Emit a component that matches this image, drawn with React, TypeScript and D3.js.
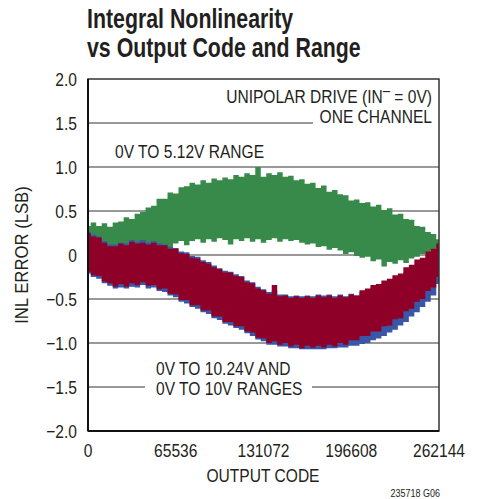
import React from "react";
import * as d3 from "d3";

const W = 485;
const H = 499;

// x sample positions (output codes), one every 4096 codes
const codeStep = 4096;
const codeMax = 262144;
const xTicks = [0, 65536, 131072, 196608, 262144];
const yTicks = [2.0, 1.5, 1.0, 0.5, 0, -0.5, -1.0, -1.5, -2.0];

// 0V to 5.12V range (green) envelope, LSB
const greenUpper = [0.33, 0.37, 0.33, 0.36, 0.32, 0.37, 0.38, 0.43, 0.41, 0.47, 0.49, 0.54, 0.56, 0.64, 0.64, 0.71, 0.70, 0.77, 0.78, 0.82, 0.80, 0.85, 0.82, 0.87, 0.85, 0.88, 0.86, 0.91, 0.89, 0.93, 0.91, 1.00, 0.89, 0.93, 0.91, 0.94, 0.89, 0.90, 0.85, 0.86, 0.81, 0.82, 0.76, 0.79, 0.72, 0.74, 0.69, 0.68, 0.62, 0.63, 0.59, 0.60, 0.55, 0.57, 0.51, 0.53, 0.46, 0.47, 0.41, 0.40, 0.33, 0.32, 0.26, 0.24, 0.18];
const greenLower = [-0.05, -0.02, 0.0, 0.02, 0.05, 0.06, 0.07, 0.08, 0.08, 0.09, 0.09, 0.10, 0.10, 0.05, 0.06, 0.04, 0.13, 0.16, 0.11, 0.16, 0.18, 0.14, 0.18, 0.15, 0.19, 0.17, 0.12, 0.18, 0.16, 0.19, 0.15, 0.18, 0.14, 0.17, 0.19, 0.15, 0.18, 0.16, 0.17, 0.14, 0.12, 0.13, 0.09, 0.10, 0.06, 0.08, 0.05, 0.01, 0.03, -0.01, -0.03, -0.02, -0.07, -0.05, -0.13, -0.08, -0.10, -0.06, -0.09, -0.04, -0.02, 0.01, 0.03, 0.06, 0.08];

// 0V to 10V range (blue) envelope, LSB
const blueUpper = [0.26, 0.23, 0.21, 0.16, 0.12, 0.12, 0.14, 0.13, 0.17, 0.15, 0.17, 0.14, 0.16, 0.13, 0.12, 0.09, 0.08, 0.04, 0.03, -0.01, -0.02, -0.06, -0.08, -0.12, -0.15, -0.18, -0.19, -0.22, -0.24, -0.29, -0.31, -0.36, -0.39, -0.42, -0.40, -0.45, -0.45, -0.47, -0.46, -0.47, -0.46, -0.47, -0.45, -0.46, -0.45, -0.47, -0.45, -0.47, -0.44, -0.46, -0.42, -0.40, -0.37, -0.35, -0.32, -0.30, -0.27, -0.24, -0.20, -0.16, -0.12, -0.08, -0.03, 0.01, 0.05];
const blueLower = [-0.21, -0.25, -0.27, -0.32, -0.35, -0.38, -0.37, -0.38, -0.36, -0.37, -0.34, -0.38, -0.37, -0.41, -0.42, -0.46, -0.48, -0.53, -0.55, -0.59, -0.61, -0.65, -0.67, -0.72, -0.74, -0.78, -0.80, -0.83, -0.85, -0.89, -0.92, -0.96, -0.98, -1.02, -1.02, -1.04, -1.04, -1.06, -1.06, -1.07, -1.07, -1.07, -1.07, -1.07, -1.06, -1.06, -1.05, -1.05, -1.03, -1.03, -1.01, -1.00, -0.97, -0.95, -0.92, -0.88, -0.85, -0.80, -0.76, -0.70, -0.65, -0.59, -0.53, -0.46, -0.33];

// 0V to 10.24V range (red) envelope, LSB
const redUpper = [0.25, 0.21, 0.20, 0.14, 0.10, 0.10, 0.13, 0.11, 0.15, 0.13, 0.14, 0.12, 0.14, 0.11, 0.11, 0.07, 0.07, 0.02, 0.01, -0.03, -0.04, -0.08, -0.10, -0.14, -0.16, -0.20, -0.20, -0.24, -0.25, -0.31, -0.32, -0.38, -0.40, -0.44, -0.34, -0.47, -0.46, -0.49, -0.47, -0.49, -0.47, -0.49, -0.46, -0.48, -0.46, -0.49, -0.46, -0.48, -0.45, -0.46, -0.40, -0.38, -0.34, -0.33, -0.29, -0.27, -0.23, -0.21, -0.14, -0.11, -0.05, -0.03, 0.04, 0.07, 0.13];
const redLower = [-0.19, -0.23, -0.24, -0.30, -0.32, -0.36, -0.33, -0.36, -0.32, -0.34, -0.31, -0.35, -0.34, -0.39, -0.38, -0.44, -0.45, -0.51, -0.51, -0.57, -0.57, -0.63, -0.63, -0.70, -0.70, -0.76, -0.76, -0.81, -0.81, -0.87, -0.88, -0.94, -0.95, -1.00, -0.98, -1.02, -1.00, -1.04, -1.02, -1.06, -1.03, -1.05, -1.03, -1.05, -1.02, -1.04, -1.00, -1.02, -0.97, -0.97, -0.92, -0.92, -0.87, -0.87, -0.81, -0.80, -0.73, -0.72, -0.64, -0.61, -0.53, -0.50, -0.41, -0.37, -0.25];

const FONT = "'Liberation Sans', Arial, sans-serif";
const GREEN = "#378a49";
const BLUE = "#3a56a6";
const RED = "#8f0028";
const TXT = "#231f20";

const x = d3.scaleLinear().domain([0, codeMax]).range([88, 439]);
const y = d3.scaleLinear().domain([-2, 2]).range([431, 79]);
const codes = d3.range(0, codeMax + 1, codeStep);

function bandPath(upper: number[], lower: number[]) {
  const area = d3
    .area<number>()
    .x((d) => x(d))
    .y0((_, i) => y(lower[i]))
    .y1((_, i) => y(upper[i]))
    .curve(d3.curveStep);
  return area(codes) || "";
}

// condensed text: scale horizontally about the anchor point
function T(props: {
  x: number;
  y: number;
  size?: number;
  sx?: number;
  anchor?: "start" | "middle" | "end";
  weight?: string;
  rotate?: number;
  dy?: string;
  children: React.ReactNode;
}) {
  const { x: px, y: py, size = 19, sx = 0.82, anchor = "start", weight = "normal", rotate = 0, dy, children } = props;
  return (
    <text
      transform={`translate(${px},${py})${rotate ? ` rotate(${rotate})` : ""} scale(${sx},1)`}
      textAnchor={anchor}
      fontSize={size}
      fontWeight={weight}
      fill={TXT}
      dy={dy}
    >
      {children}
    </text>
  );
}

export default function App() {
  return (
    <svg
      width={W}
      height={H}
      style={{ position: "absolute", left: 0, top: 0, background: "#fff" }}
      fontFamily={FONT}
    >
      <rect width={W} height={H} fill="#fff" />
      {/* title */}
      <T x={87} y={28} size={27} sx={0.79} weight="bold">Integral Nonlinearity</T>
      <T x={87} y={57} size={27} sx={0.79} weight="bold">vs Output Code and Range</T>

      {/* gridlines */}
      {[1.0, 0.5, 0, -0.5, -1.0].map((v) => (
        <line key={v} x1={x(0)} x2={x(codeMax)} y1={y(v)} y2={y(v)} stroke="#333" strokeWidth={1} />
      ))}
      <line x1={x(0)} x2={313} y1={y(1.5)} y2={y(1.5)} stroke="#333" strokeWidth={1} />
      <line x1={x(0)} x2={145} y1={y(-1.5)} y2={y(-1.5)} stroke="#333" strokeWidth={1} />
      <line x1={312} x2={x(codeMax)} y1={y(-1.5)} y2={y(-1.5)} stroke="#333" strokeWidth={1} />

      {/* bands */}
      <path d={bandPath(greenUpper, greenLower)} fill={GREEN} />
      <path d={bandPath(blueUpper, blueLower)} fill={BLUE} />
      <path d={bandPath(redUpper, redLower)} fill={RED} />

      {/* frame */}
      <rect x={x(0)} y={y(2)} width={x(codeMax) - x(0)} height={y(-2) - y(2)} fill="none" stroke="#333" strokeWidth={1.5} />
      <line x1={x(0)} x2={x(0)} y1={y(2)} y2={y(-2)} stroke="#111" strokeWidth={2} />
      <line x1={x(0)} x2={x(codeMax)} y1={y(-2)} y2={y(-2)} stroke="#111" strokeWidth={2} />

      {/* y tick labels */}
      {yTicks.map((v) => (
        <T key={v} x={77} y={y(v)} dy="0.36em" anchor="end">
          {v < 0 ? "\u2212" + Math.abs(v).toFixed(1) : v === 0 ? "0" : v.toFixed(1)}
        </T>
      ))}
      {/* x tick labels */}
      {xTicks.map((v) => (
        <T key={v} x={x(v)} y={457} anchor="middle">
          {String(v)}
        </T>
      ))}
      <T x={263} y={482} anchor="middle">OUTPUT CODE</T>
      <T x={28} y={y(0)} anchor="middle" rotate={-90} sx={0.88}>INL ERROR (LSB)</T>
      <T x={440} y={497} size={11} anchor="end">235718 G06</T>

      {/* annotations */}
      <T x={432} y={103} anchor="end">
        UNIPOLAR DRIVE (IN
        <tspan dy={-7} fontSize={16}>{"\u2013"}</tspan>
        <tspan dy={7}> = 0V)</tspan>
      </T>
      <T x={432} y={123} anchor="end">ONE CHANNEL</T>
      <T x={115} y={158}>0V TO 5.12V RANGE</T>
      <T x={156} y={375}>0V TO 10.24V AND</T>
      <T x={156} y={395}>0V TO 10V RANGES</T>
    </svg>
  );
}
